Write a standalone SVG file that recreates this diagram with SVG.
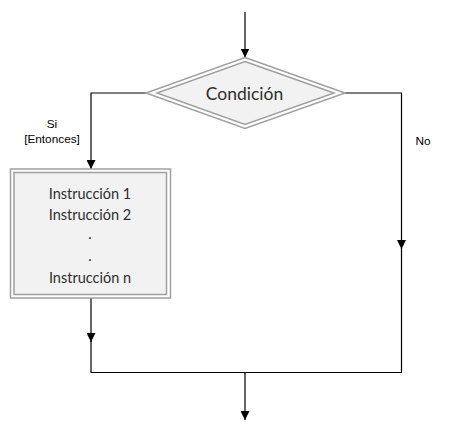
<svg xmlns="http://www.w3.org/2000/svg" width="450" height="428" viewBox="0 0 450 428">
<style>
.bg{fill:#ffffff}
.outer{fill:#ffffff;stroke:#a0a0a0;stroke-width:1.5}
.inner{fill:#f2f2f2;stroke:#a0a0a0;stroke-width:1.5}
.conn{fill:none;stroke:#000000;stroke-width:1.2}
.main{font-family:Lato,"Open Sans",sans-serif;fill:#2e2e2e;text-anchor:middle}
.lbl{font-family:"Liberation Sans",Arial,sans-serif;font-size:11.8px;fill:#000000;text-anchor:middle}
</style>
<defs>
<marker id="arr" viewBox="0 0 10 10" refX="10" refY="5" markerWidth="9" markerHeight="9" markerUnits="userSpaceOnUse" orient="auto">
<path d="M0,0 L10,5 L0,10 z" fill="#000000"/>
</marker>
</defs>
<rect class="bg" x="0" y="0" width="450" height="428"/>
<g id="connectors">
<path class="conn" d="M245,12 V57.5" marker-end="url(#arr)"/>
<path class="conn" d="M146,93 H91 V169" marker-end="url(#arr)"/>
<path class="conn" d="M345,93 H401.5 V249" marker-end="url(#arr)"/>
<path class="conn" d="M401.5,248 V372.5 H245"/>
<path class="conn" d="M91,298 V342" marker-end="url(#arr)"/>
<path class="conn" d="M91,341 V372.5 H245"/>
<path class="conn" d="M245,372.5 V420" marker-end="url(#arr)"/>
<text class="lbl" x="52" y="128">Si</text>
<text class="lbl" x="52" y="142.5">[Entonces]</text>
<text class="lbl" x="423" y="145">No</text>
</g>
<g id="condicion">
<polygon class="outer" points="245,57.5 345,93 245,128.5 146,93"/>
<polygon class="inner" points="245,61.5 334,93 245,124.5 157,93"/>
<text class="main" x="244.5" y="99.5" font-size="17.5">Condición</text>
</g>
<g id="instrucciones">
<rect class="outer" x="10.5" y="169" width="160" height="129"/>
<rect class="inner" x="14" y="172.5" width="152.5" height="122"/>
<text class="main" x="90" y="198.5" font-size="14.5">Instrucción 1</text>
<text class="main" x="90" y="219.5" font-size="14.5">Instrucción 2</text>
<text class="main" x="90" y="239" font-size="14.5">.</text>
<text class="main" x="90" y="260.5" font-size="14.5">.</text>
<text class="main" x="90" y="282.5" font-size="14.5">Instrucción n</text>
</g>
</svg>
